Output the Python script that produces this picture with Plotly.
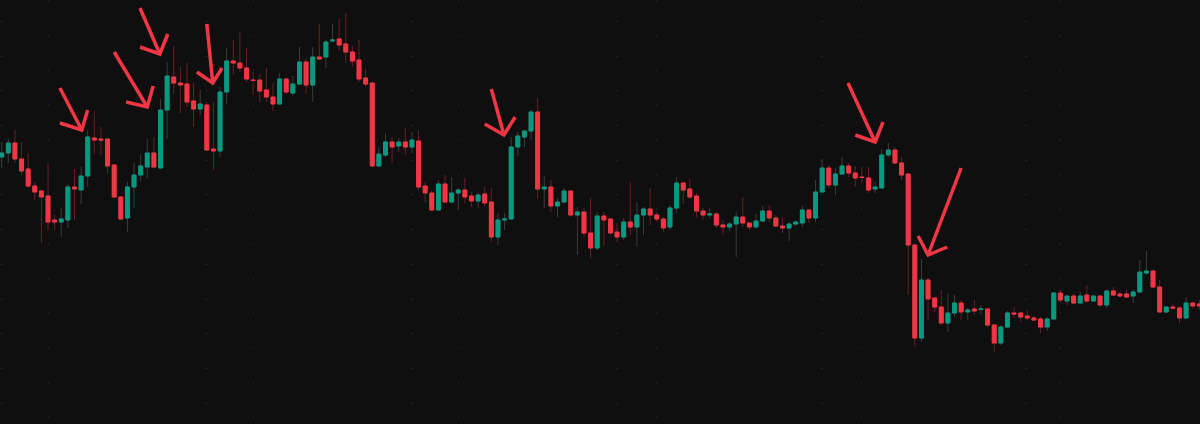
import plotly.graph_objects as go

# ---- data (price units) ----
open_ = [267, 271, 281, 265, 255, 238, 233, 228, 204, 202, 204, 237, 234, 248, 286, 285, 285, 259, 227, 206,
         237, 249, 257, 271, 256, 314, 347, 341, 340, 323, 315, 319, 275, 273, 332, 363, 361, 356, 344, 344,
         334, 327, 320, 345, 331, 340, 362, 339, 367, 367, 383, 385, 380, 372, 364, 346, 341, 258, 269, 282,
         278, 282, 277, 283, 238, 231, 214, 240, 222, 231, 234, 228, 223, 230, 222, 187, 204, 205, 277, 287,
         293, 312, 235, 237, 218, 222, 233, 209, 212, 191, 176, 208, 205, 192, 187, 202, 197, 209, 215, 209,
         205, 197, 216, 241, 235, 228, 213, 209, 210, 199, 197, 200, 207, 201, 197, 203, 213, 206, 198, 196,
         200, 201, 214, 206, 232, 256, 239, 250, 258, 251, 247, 246, 235, 236, 269, 274, 261, 250, 179, 86,
         144, 126, 117, 101, 111, 121, 112, 115, 114.5, 115, 99, 81, 97, 111, 111, 108, 106, 105, 97, 105,
         131, 123, 128, 121, 129, 123, 128, 119, 133, 130, 130, 128, 132, 151, 153, 137, 112, 117, 116, 106,
         121, 120]
high = [282, 285, 294, 282, 271, 242, 234, 261, 209, 216, 240, 255, 257, 294, 313, 297, 285, 259, 227, 242,
        261, 270, 285, 287, 325, 362, 378, 357, 361, 341, 334, 322, 322, 337, 376, 384, 392, 376, 352, 350,
        356, 341, 351, 345, 348, 377, 366, 377, 400, 384, 400, 405, 411, 378, 384, 355, 341, 277, 291, 287,
        286, 296, 292, 294, 242, 234, 244, 249, 247, 236, 246, 232, 231, 237, 236, 211, 211, 287, 292, 293,
        314, 326, 248, 244, 226, 236, 233, 217, 216, 226, 212, 212, 206, 201, 206, 242, 222, 217, 236, 212,
        207, 219, 247, 241, 245, 231, 216, 216, 212, 204, 202, 212, 227, 202, 210, 218, 219, 209, 206, 202,
        204, 218, 214, 244, 265, 259, 256, 267, 261, 258, 257, 257, 242, 275, 281, 277, 267, 250, 179, 165,
        146, 127, 134, 130, 129, 124, 116, 124, 119, 115, 99, 99, 113, 117, 111, 114, 108, 107, 107, 132,
        134, 129, 130, 132, 139, 129, 129, 135, 137, 132, 134, 135, 164, 173, 154, 144, 118, 120, 118, 127,
        122, 124]
low = [256, 261, 261, 249, 236, 224, 181, 194, 194, 187, 196, 204, 220, 237, 270, 269, 251, 226, 204, 192,
       216, 242, 246, 256, 256, 285, 330, 311, 317, 297, 309, 273, 254, 267, 320, 349, 352, 342, 329, 322,
       322, 313, 320, 330, 328, 339, 330, 322, 364, 356, 382, 374, 361, 357, 342, 337, 257, 257, 267, 261,
       272, 269, 271, 234, 221, 213, 214, 221, 221, 214, 221, 217, 216, 217, 182, 179, 194, 205, 268, 277,
       284, 225, 216, 212, 207, 221, 207, 169, 187, 166, 174, 178, 189, 182, 184, 189, 177, 189, 199, 202,
       192, 194, 211, 220, 225, 207, 204, 206, 196, 189, 193, 167, 197, 194, 197, 202, 202, 197, 191, 183,
       198, 197, 201, 202, 232, 236, 229, 249, 247, 237, 241, 231, 231, 236, 267, 261, 244, 129, 77, 82,
       104, 112, 99, 92, 107, 104, 104, 109, 109, 97, 72, 79, 96, 106, 102, 104, 103, 91, 93, 105,
       121, 119, 120, 121, 121, 122, 117, 116, 128, 127, 127, 121, 131, 149, 136, 111, 111, 114, 101, 105,
       116, 114]
close = [271, 281, 265, 253, 238, 232, 227, 202, 202, 205, 237, 235, 248, 287, 284, 284, 258, 227, 205, 237,
         249, 258, 271, 257, 314, 348, 341, 339, 322, 315, 320, 274, 273, 332, 363, 361, 356, 345, 343.5, 333,
         327, 320, 345, 332, 340, 362, 339, 367, 365, 382, 384, 379, 372, 363, 345, 340, 258, 270, 282, 277,
         282, 277, 284, 237, 231, 214, 240, 222, 231, 234, 227, 223, 229, 221, 187, 204, 205, 277, 288, 293,
         312, 235, 237, 218, 222, 233, 209, 212, 191, 176, 208, 204, 191, 187, 202, 197, 209, 215, 209, 205,
         196, 216, 241, 234, 227, 213, 209, 210, 199, 197, 200, 207, 201, 197, 203, 213, 206, 198, 196, 200,
         202, 214, 206, 232, 256, 239, 250, 258, 251, 246, 246.5, 234, 237, 269, 274, 261, 249, 179, 86, 144,
         125, 117, 101, 111, 121, 112, 114, 113, 115, 99, 81, 97, 111, 110, 107, 106, 104, 97, 105, 131,
         124, 128, 121, 128, 123, 128, 119, 133, 129, 128, 127, 132, 152, 153, 137, 112, 117, 116, 106, 121,
         118, 118]
idx = list(range(len(open_)))

# faint time / price grid positions
grid_x = [7, 38, 69, 99, 130, 160]
grid_y = [21, 56, 91, 125, 160, 195, 230, 264, 299, 334, 368, 403]

# hand-drawn arrows: (tail, tip, barb1, barb2) in (candle index, price)
arrows = [
    ((8.8, 336), (12.1, 294), (8.8, 301), (13.0, 314)),
    ((17.0, 372), (22.0, 317), (18.8, 322), (22.9, 338)),
    ((20.9, 416), (23.9, 370), (20.9, 377), (25.1, 390)),
    ((31.0, 400), (31.9, 341), (29.5, 352), (33.3, 356)),
    ((74.0, 335), (75.9, 289), (73.0, 300), (77.6, 307)),
    ((127.9, 341), (132.0, 282), (129.0, 289), (133.2, 302)),
    ((145.0, 256), (140.0, 169), (138.5, 188), (142.9, 177)),
]

UP = "#089981"
DOWN = "#f23645"
UP_WICK = "#3a3d3d"
DOWN_WICK = "#6a1f28"
ARROW = "#f23645"
BG = "#0f0f0f"
GRID = "#202020"

body_hi = [max(o, c) for o, c in zip(open_, close)]
body_lo = [min(o, c) for o, c in zip(open_, close)]

fig = go.Figure()
# wicks (muted colours)
fig.add_trace(go.Candlestick(
    x=idx, open=open_, high=high, low=low, close=close,
    increasing=dict(line=dict(color=UP_WICK, width=1), fillcolor=UP_WICK),
    decreasing=dict(line=dict(color=DOWN_WICK, width=1), fillcolor=DOWN_WICK),
    hoverinfo="skip", showlegend=False,
))
# bodies (bright colours)
fig.add_trace(go.Candlestick(
    x=idx, open=open_, high=body_hi, low=body_lo, close=close,
    increasing=dict(line=dict(color=UP, width=1), fillcolor=UP),
    decreasing=dict(line=dict(color=DOWN, width=1), fillcolor=DOWN),
    hoverinfo="skip", showlegend=False,
))

shapes = []
for tail, tip, b1, b2 in arrows:
    shapes.append(dict(type="line", xref="x", yref="y",
                       x0=tail[0], y0=tail[1], x1=tip[0], y1=tip[1],
                       line=dict(color=ARROW, width=3.5)))
    shapes.append(dict(type="path", xref="x", yref="y",
                       path=f"M {b1[0]},{b1[1]} L {tip[0]},{tip[1]} L {b2[0]},{b2[1]}",
                       line=dict(color=ARROW, width=3.5)))

fig.update_layout(
    width=1200, height=424,
    margin=dict(l=0, r=0, t=0, b=0),
    paper_bgcolor=BG, plot_bgcolor=BG,
    showlegend=False,
    boxgap=0.3, boxgroupgap=0.15,
    shapes=shapes,
    xaxis=dict(range=[-0.257, 181.1], rangeslider=dict(visible=False),
               tickvals=grid_x, showticklabels=False, ticks="",
               showgrid=True, gridcolor=GRID, griddash="2px,32.7px", gridwidth=1,
               zeroline=False, showline=False, fixedrange=True),
    yaxis=dict(range=[0, 424], tickvals=grid_y, showticklabels=False, ticks="",
               showgrid=True, gridcolor=GRID, griddash="3px,202px", gridwidth=1,
               zeroline=False, showline=False, fixedrange=True),
)

fig.write_html(
    "out.html",
    config={"displayModeBar": False},
    post_script="document.body.style.margin='0';document.body.style.padding='0';"
                "document.body.style.background='#0f0f0f';document.body.style.overflow='hidden';",
)
